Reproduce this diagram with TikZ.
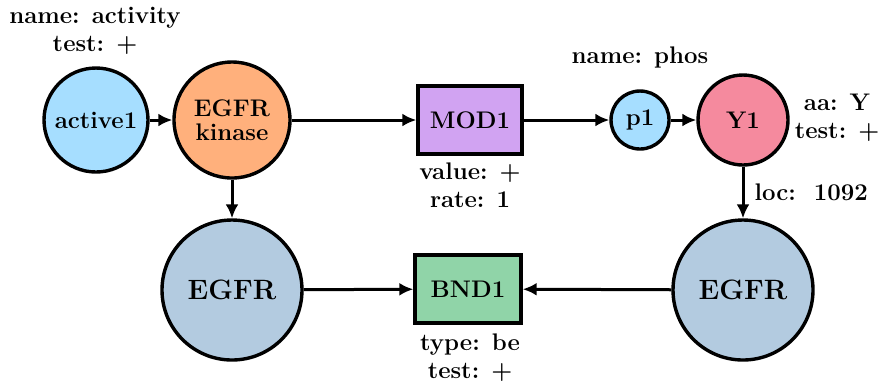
\documentclass[tikz,border=0pt]{standalone}
\usetikzlibrary{arrows.meta}
\usepackage{amsmath}
\definecolor{cblue}{HTML}{A6DEFF}
\definecolor{corange}{HTML}{FFB07C}
\definecolor{cpurple}{HTML}{D1A3F2}
\definecolor{cpink}{HTML}{F58A9E}
\definecolor{csteel}{HTML}{B3CBE0}
\definecolor{cgreen}{HTML}{90D4A8}
\begin{document}
\begin{tikzpicture}[x=0.5pt,y=-0.5pt,
  every node/.style={font=\fontsize{12}{14}\selectfont\bfseries},
  circ/.style={circle,draw,line width=1.7pt,inner sep=0pt,align=center},
  box/.style={rectangle,draw,line width=1.7pt,inner sep=0pt},
  lab/.style={align=center,inner sep=0pt},
  conn/.style={line width=1.5pt,-{Latex[length=7pt,width=6.5pt]}}]
\useasboundingbox (0,0) rectangle (881,388);
\node[circ,fill=cblue,minimum size=52pt] (act) at (96,120) {active1};
\node[circ,fill=corange,minimum size=58pt] (kin) at (232,120) {EGFR\\[-2pt]kinase};
\node[box,fill=cpurple,minimum width=52pt,minimum height=34pt] (mod) at (470,120) {MOD1};
\node[circ,fill=cblue,minimum size=29pt] (p1) at (640,120) {p1};
\node[circ,fill=cpink,minimum size=45pt] (y1) at (743,120) {Y1};
\node[circ,fill=csteel,minimum size=70pt,font=\fontsize{14}{16}\selectfont\bfseries] (el) at (232,290) {EGFR};
\node[circ,fill=csteel,minimum size=70pt,font=\fontsize{14}{16}\selectfont\bfseries] (er) at (743,290) {EGFR};
\node[box,fill=cgreen,minimum width=53pt,minimum height=34pt] (bnd) at (468,289) {BND1};
\node[lab] (l1) at (95,31) {name: activity\\test: $\boldsymbol{+}$};
\node[lab] (l2) at (640,57) {name: phos};
\node[lab] (l3) at (837,118) {aa: Y\\test: $\boldsymbol{+}$};
\node[lab] (l4) at (470,185) {value: $\boldsymbol{+}$\\rate: 1};
\node[lab] (l5) at (470,358) {type: be\\test: $\boldsymbol{+}$};
\draw[conn] (act) -- (kin);
\draw[conn] (kin) -- (mod);
\draw[conn] (mod) -- (p1);
\draw[conn] (p1) -- (y1);
\draw[conn] (kin) -- (el);
\draw[conn] (y1) -- node[lab,right=5pt] (l6) {loc:\ \ 1092} (er);
\draw[conn] (el) -- (bnd);
\draw[conn] (er) -- (bnd);
\end{tikzpicture}
\end{document}
